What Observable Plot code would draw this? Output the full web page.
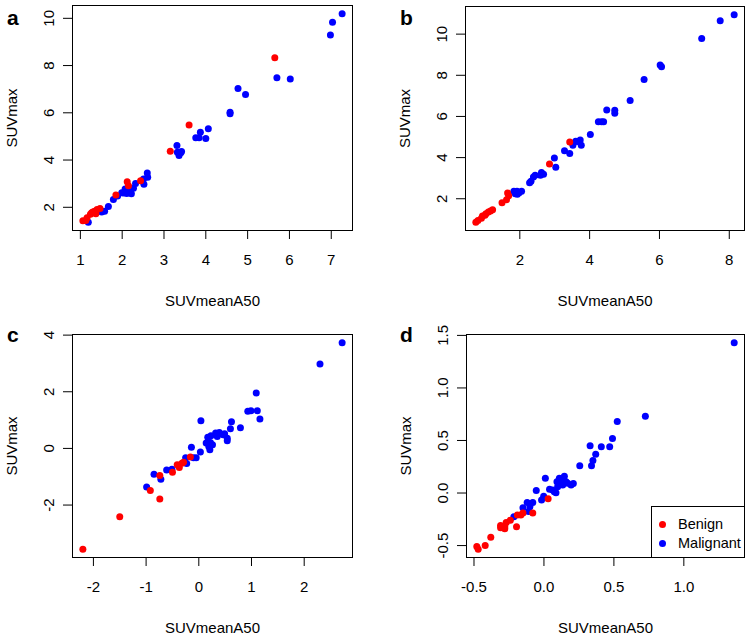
<!DOCTYPE html>
<html>
<head>
<meta charset="utf-8">
<script src="https://cdn.jsdelivr.net/npm/d3@7"></script>
<script src="https://cdn.jsdelivr.net/npm/@observablehq/plot@0.6"></script>
<style>
  body { margin: 0; background: #fff; }
  #chart { position: relative; width: 751px; height: 637px; font-family: "Liberation Sans", Arial, sans-serif; color: #000; overflow: hidden; }
  .panel { position: absolute; }
  .letter { position: absolute; font-weight: bold; font-size: 21px; line-height: 1; }
  #legend { position: absolute; left: 651px; top: 506px; width: 92px; height: 50px; border: 1px solid #000; background: #fff; font-size: 14.5px; }
  #legend .row { position: absolute; left: 7px; display: flex; align-items: center; height: 16px; }
  #legend .sw { width: 7px; height: 7px; border-radius: 50%; margin-right: 12px; }
</style>
</head>
<body>
<div id="chart"></div>
<script>
// ---------- data ----------
const groups = ["Benign", "Malignant"];
const groupColors = ["red", "blue"];
const xTitle = "SUVmeanA50";
const yTitle = "SUVmax";

// panel a
const aMalignant = [[7.26,10.19],[7.03,9.83],[6.98,9.29],[5.70,7.48],[6.02,7.43],[4.77,7.03],[4.95,6.78],[4.58,6.02],[4.58,5.96],[4.06,5.33],[3.87,5.18],[3.76,4.94],[3.84,4.94],[4.00,4.91],[3.31,4.62],[3.32,4.33],[3.40,4.31],[3.36,4.19],[3.42,4.36],[2.60,3.45],[2.61,3.27],[2.51,3.20],[2.52,2.97],[2.32,3.01],[2.27,2.81],[2.20,2.70],[2.11,2.58],[1.99,2.62],[2.07,2.77],[1.89,2.48],[1.79,2.33],[1.67,2.03],[1.58,1.83],[1.51,1.80],[1.19,1.37],[2.15,2.85],[2.22,2.57],[2.03,2.60]];
const aBenign = [[5.65,8.33],[3.60,5.48],[3.15,4.37],[2.12,3.08],[2.15,2.91],[2.44,3.12],[1.85,2.52],[1.47,1.95],[1.40,1.91],[1.34,1.83],[1.27,1.77],[1.24,1.70],[1.16,1.56],[1.06,1.43],[1.13,1.44],[1.37,1.73],[1.30,1.80]];
const aXTicks = [1, 2, 3, 4, 5, 6, 7];
const aYTicks = [2, 4, 6, 8, 10];

// panel b
const bMalignant = [[8.14,10.94],[7.74,10.65],[7.21,9.79],[6.02,8.50],[6.06,8.42],[5.56,7.80],[5.16,6.78],[4.72,6.30],[4.72,6.16],[4.49,6.31],[4.25,5.74],[4.34,5.74],[4.40,5.74],[4.02,5.12],[3.76,4.60],[3.73,4.85],[3.60,4.80],[3.52,4.60],[3.43,4.20],[3.28,4.33],[2.99,3.98],[3.03,3.53],[2.68,3.19],[2.59,3.14],[2.62,3.27],[2.39,3.06],[2.44,3.14],[2.32,2.85],[2.28,2.78],[2.05,2.36],[1.98,2.29],[1.92,2.36],[1.87,2.24],[1.83,2.36],[1.93,2.22],[3.65,4.78]];
const bBenign = [[3.43,4.76],[2.85,3.69],[1.65,2.28],[1.68,2.14],[1.62,1.95],[1.49,1.80],[1.22,1.46],[1.16,1.40],[1.10,1.35],[1.03,1.27],[0.93,1.16],[0.90,1.05],[0.80,0.94],[0.74,0.86],[1.00,1.20]];
const bXTicks = [2, 4, 6, 8];
const bYTicks = [2, 4, 6, 8, 10];

// panel c
const cMalignant = [[2.72,3.73],[2.30,2.98],[1.09,1.96],[1.11,1.33],[1.16,1.04],[0.93,1.31],[0.99,1.33],[0.79,0.73],[0.62,0.94],[0.60,0.69],[0.04,0.98],[0.54,0.36],[0.54,0.27],[0.49,0.52],[0.17,0.39],[0.23,0.45],[0.32,0.54],[0.39,0.56],[0.46,0.48],[0.35,0.42],[0.14,0.19],[0.22,0.21],[0.19,0.07],[0.26,0.13],[0.03,-0.13],[0.21,-0.05],[-0.14,0.04],[-0.10,-0.33],[-0.05,-0.33],[-0.25,-0.33],[-0.23,-0.53],[-0.51,-0.74],[-0.61,-0.76],[-0.85,-0.91],[-0.72,-1.09],[-0.99,-1.36]];
const cBenign = [[-2.20,-3.56],[-1.50,-2.41],[-0.74,-1.79],[-0.92,-1.49],[-0.74,-0.96],[-0.50,-0.84],[-0.41,-0.58],[-0.37,-0.67],[-0.32,-0.52],[-0.29,-0.49],[-0.16,-0.30]];
const cXTicks = [-2, -1, 0, 1, 2];
const cYTicks = [-2, 0, 2, 4];

// panel d
const dMalignant = [[1.36,1.43],[0.725,0.73],[0.524,0.68],[0.49,0.52],[0.47,0.44],[0.41,0.44],[0.33,0.45],[0.37,0.37],[0.35,0.31],[0.34,0.26],[0.256,0.26],[0.21,0.09],[0.146,0.16],[0.158,0.108],[0.122,0.124],[0.11,0.092],[0.098,0.06],[0.074,0.013],[0.062,0.029],[0.086,0.003],[0.134,0.076],[0.17,0.092],[0.11,0.14],[0.093,0.108],[0.194,0.076],[0.01,0.14],[0.04,0.035],[-0.055,0.025],[-0.017,-0.067],[-0.002,-0.03],[-0.08,-0.09],[-0.12,-0.09],[-0.10,-0.13],[-0.15,-0.14],[-0.11,-0.175],[-0.215,-0.226]];
const dBenign = [[0.03,-0.054],[-0.08,-0.19],[-0.15,-0.19],[-0.165,-0.21],[-0.19,-0.21],[-0.196,-0.32],[-0.24,-0.26],[-0.27,-0.28],[-0.28,-0.32],[-0.31,-0.31],[-0.31,-0.33],[-0.28,-0.34],[-0.38,-0.42],[-0.42,-0.50],[-0.48,-0.51],[-0.47,-0.535]];
const dXTicks = [-0.5, 0.0, 0.5, 1.0];
const dYTicks = [-0.5, 0.0, 0.5, 1.0, 1.5];

// ---------- drawing ----------
const chart = document.getElementById("chart");

// R-style axis range: data extent extended by 4% on each side
function rRange(vals) {
  const [lo, hi] = d3.extent(vals);
  const p = (hi - lo) * 0.04;
  return [lo - p, hi + p];
}

function makePanel(cfg) {
  const rows = [
    ...cfg.malignant.map(([x, y]) => ({x, y, group: "Malignant"})),
    ...cfg.benign.map(([x, y]) => ({x, y, group: "Benign"}))
  ];
  const fmt = cfg.fmt;
  const svg = Plot.plot({
    width: cfg.width,
    height: cfg.height,
    marginLeft: cfg.ml, marginRight: cfg.mr, marginTop: cfg.mt, marginBottom: cfg.mb,
    style: {fontFamily: '"Liberation Sans", Arial, sans-serif', fontSize: "15px", color: "#000", background: "transparent", overflow: "visible"},
    x: {domain: rRange(rows.map(d => d.x))},
    y: {domain: rRange(rows.map(d => d.y))},
    color: {domain: groups, range: groupColors},
    marks: [
      Plot.axisX({ticks: cfg.xTicks, tickFormat: fmt, tickSize: 9, tickPadding: 15, fontSize: 15,
        label: xTitle, labelAnchor: "center", labelArrow: "none", labelOffset: 75}),
      Plot.axisY({ticks: cfg.yTicks, tickFormat: fmt, tickSize: 9, tickPadding: 14, tickRotate: -90,
        textAnchor: "middle", lineAnchor: "middle", fontSize: 15,
        label: yTitle, labelAnchor: "center", labelArrow: "none", labelOffset: 66}),
      Plot.dot(rows, {x: "x", y: "y", r: 3.5, fill: "group", stroke: null}),
      Plot.frame({stroke: "#000", strokeWidth: 1})
    ]
  });
  svg.classList.add("panel");
  svg.style.left = cfg.left + "px";
  svg.style.top = cfg.top + "px";
  chart.appendChild(svg);

  const L = document.createElement("div");
  L.className = "letter";
  L.textContent = cfg.letter;
  L.style.left = cfg.letterLeft + "px";
  L.style.top = cfg.letterTop + "px";
  chart.appendChild(L);
}

const intFmt = d => String(d);
const oneDec = d => d.toFixed(1);

makePanel({letter: "a", malignant: aMalignant, benign: aBenign, xTicks: aXTicks, yTicks: aYTicks, fmt: intFmt,
  left: 0, top: 0, width: 375, height: 320, ml: 72, mr: 23, mt: 5, mb: 90, letterLeft: 7, letterTop: 7});
makePanel({letter: "b", malignant: bMalignant, benign: bBenign, xTicks: bXTicks, yTicks: bYTicks, fmt: intFmt,
  left: 375, top: 0, width: 376, height: 320, ml: 90, mr: 7, mt: 6, mb: 90, letterLeft: 400, letterTop: 7});
makePanel({letter: "c", malignant: cMalignant, benign: cBenign, xTicks: cXTicks, yTicks: cYTicks, fmt: intFmt,
  left: 0, top: 317, width: 375, height: 320, ml: 72, mr: 23, mt: 17, mb: 80, letterLeft: 7, letterTop: 324});
makePanel({letter: "d", malignant: dMalignant, benign: dBenign, xTicks: dXTicks, yTicks: dYTicks, fmt: oneDec,
  left: 375, top: 317, width: 376, height: 320, ml: 91, mr: 7, mt: 17, mb: 80, letterLeft: 400, letterTop: 324});

// legend (panel d, bottom-right corner of the plot box)
const legend = document.createElement("div");
legend.id = "legend";
groups.forEach((g, i) => {
  const row = document.createElement("div");
  row.className = "row";
  row.style.top = (9 + i * 19) + "px";
  const sw = document.createElement("span");
  sw.className = "sw";
  sw.style.background = groupColors[i];
  const t = document.createElement("span");
  t.textContent = g;
  row.appendChild(sw);
  row.appendChild(t);
  legend.appendChild(row);
});
chart.appendChild(legend);
</script>
</body>
</html>
